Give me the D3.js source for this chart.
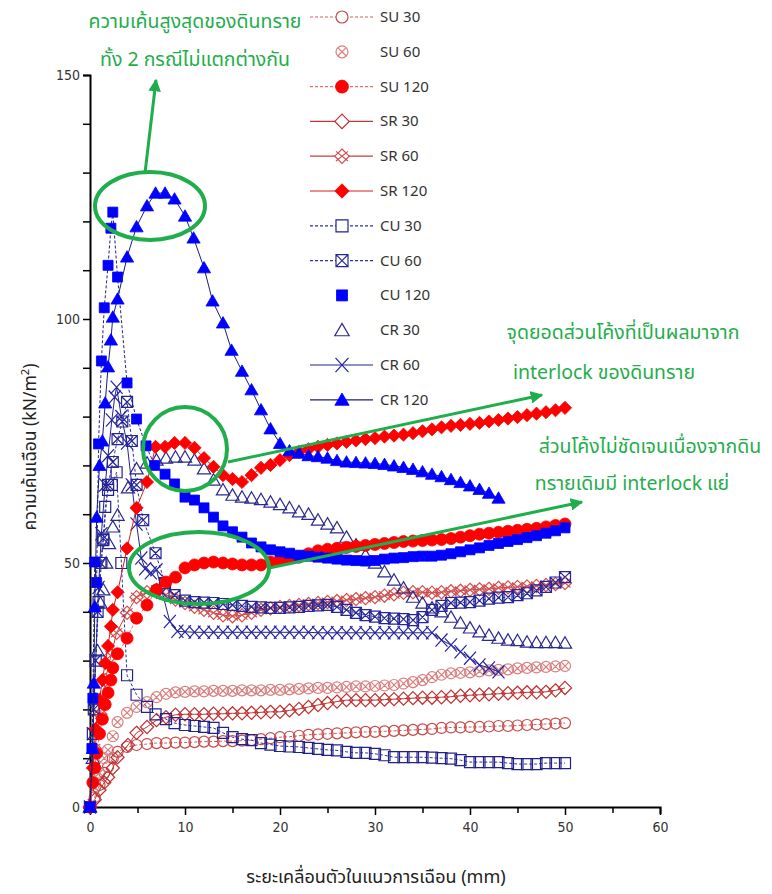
<!DOCTYPE html>
<html>
<head>
<meta charset="utf-8">
<script src="https://cdn.jsdelivr.net/npm/d3@7"></script>
<style>
  body { margin: 0; background: #fff; }
  svg text { font-family: "Noto Sans Thai", "Noto Sans", "DejaVu Sans", sans-serif; }
</style>
</head>
<body>
<div id="chart"></div>
<script>
// data: [displacement mm, shear stress kN/m2]
const su30 = [[0,0],[0.5,2],[1,4.5],[1.5,7],[1.9,8.2],[2.4,10],[2.9,11.3],[3.9,12.3],[4.9,12.7],[6,12.9],[7,13.1],[8,13.1],[9,13.2],[10,13.2],[11,13.3],[12,13.4],[13,13.4],[14,13.5],[15,13.5],[16,13.6],[17,13.7],[18,13.9],[19,14.1],[20,14.3],[21,14.4],[22,14.6],[23,14.8],[24,14.9],[25,15],[26,15.1],[27,15.2],[28,15.3],[29,15.4],[30,15.4],[31,15.5],[32,15.6],[33,15.7],[34,15.8],[35,15.9],[36,16],[37,16.2],[38,16.3],[39,16.3],[40,16.4],[41,16.4],[42,16.5],[43,16.6],[44,16.6],[45,16.7],[46,16.8],[47,16.9],[48,17],[49,17.1],[50,17.2]];
const su60 = [[0,0],[0.5,4],[1,7],[1.5,10],[1.9,11.7],[2.4,14.5],[2.9,17.4],[3.9,19.3],[4.9,20.5],[6,21.5],[7,22.5],[8,23.2],[9,23.5],[10,23.6],[11,23.7],[12,23.7],[13,23.8],[14,23.8],[15,23.8],[16,23.9],[17,23.9],[18,23.9],[19,24],[20,24],[21,24.1],[22,24.2],[23,24.3],[24,24.4],[25,24.4],[26,24.5],[27,24.6],[28,24.7],[29,24.7],[30,24.8],[31,24.9],[32,25],[33,25.3],[34,25.6],[35,26],[36,26.6],[37,27.1],[38,27.4],[39,27.5],[40,27.6],[41,27.8],[42,28],[43,28.1],[44,28.2],[45,28.4],[46,28.5],[47,28.6],[48,28.7],[49,28.8],[50,28.9]];
const su120 = [[0,0],[0.3,5],[0.5,8],[0.7,11],[1,15],[1.3,18],[1.6,21],[1.9,23.4],[2.2,26],[2.4,28.5],[2.9,31.4],[3.9,34.6],[4.9,38.7],[6,41.4],[7,44.5],[8,46.1],[9,47.1],[10,49],[11,49.6],[12,50],[13,50.2],[14,50],[15,49.8],[16,49.6],[17,49.6],[18,49.6],[19,50.2],[20,50.6],[21,51],[22,51.2],[23,51.9],[24,52.5],[25,52.8],[26,53],[27,53.2],[28,53.4],[29,53.6],[30,53.8],[31,54],[32,54.2],[33,54.4],[34,54.5],[35,54.6],[36,54.7],[37,54.8],[38,55],[39,55.3],[40,55.6],[41,55.9],[42,56.1],[43,56.3],[44,56.5],[45,56.7],[46,56.9],[47,57.1],[48,57.4],[49,57.7],[50,58]];
const sr30 = [[0,0],[0.5,1.5],[1,3.5],[1.5,5],[1.9,6.1],[2.4,8],[2.9,10.2],[4,12.7],[4.9,15.2],[6,16.4],[7,17.8],[8,18.4],[9,18.9],[10,19],[11,19],[12,19],[13,19.1],[14,19.1],[15,19.2],[16,19.2],[17,19.3],[18,19.4],[19,19.5],[20,19.5],[21,19.8],[22,20.1],[23,20.5],[24,20.9],[25,21.3],[26,21.6],[27,21.9],[28,21.9],[29,21.9],[30,21.9],[31,22],[32,22.1],[33,22.2],[34,22.3],[35,22.4],[36,22.4],[37,22.5],[38,22.6],[39,22.8],[40,22.9],[41,23],[42,23.1],[43,23.2],[44,23.3],[45,23.4],[46,23.5],[47,23.5],[48,23.6],[49,23.9],[50,24.4]];
const sr60 = [[0,0],[0.5,12],[1.1,19],[1.6,26],[2.2,31],[2.8,35.7],[3.9,39.8],[4.9,43],[6,44],[7,44.5],[8,43.5],[9,42.5],[10,41.8],[11,41],[12,40.4],[13,39.8],[14,39.3],[15,39.1],[16,39.3],[17,39.8],[18,40.4],[19,40.7],[20,41],[21,41.2],[22,41.4],[23,41.6],[24,41.8],[25,42],[26,42.2],[27,42.4],[28,42.6],[29,42.8],[30,43],[31,43.3],[32,43.6],[33,43.9],[34,44],[35,44],[36,43.9],[37,44],[38,44.2],[39,44.3],[40,44.5],[41,44.6],[42,44.7],[43,44.9],[44,45],[45,45.1],[46,45.2],[47,45.3],[48,45.5],[49,45.7],[50,45.9]];
const sr120 = [[0,0],[0.3,8],[0.6,16],[1,22],[1.3,26],[1.6,29.5],[1.9,33],[2.2,37],[2.4,40.4],[2.9,44],[3.9,53],[4.9,61.3],[6,66.6],[6.9,73.8],[7.9,73.8],[8.9,74.6],[10,74.6],[11,73.6],[12,71.5],[13,69.7],[14,68],[15,67.2],[16,66.6],[17,68],[18,69.5],[19,70.1],[20,71.1],[21,72.1],[22,72.8],[23,73.3],[24,73.8],[25,74.2],[26,74.5],[27,74.8],[28,75.1],[29,75.4],[30,75.6],[31,75.9],[32,76.1],[33,76.3],[34,76.6],[35,77],[36,77.4],[37,77.8],[38,78.1],[39,78.3],[40,78.5],[41,78.7],[42,79],[43,79.3],[44,79.6],[45,79.9],[46,80.3],[47,80.6],[48,80.9],[49,81.3],[50,81.8]];
const cu30 = [[0,0],[0.3,15],[0.6,30],[0.9,42],[1.2,50],[1.4,54.7],[1.6,61.5],[1.9,65],[2.3,66],[2.8,68.6],[3.3,50],[3.9,27],[4.9,23],[6,20.5],[6.9,19],[8,18],[8.9,17.2],[10,16.8],[11,16.6],[12,16.4],[13,16.2],[14,15.2],[15,14.3],[16,13.9],[17,13.7],[18,13.1],[19,12.8],[20,12.5],[21,12.4],[22,12.3],[23,12.1],[24,11.9],[25,11.7],[26,11.6],[27,11.3],[28,11.1],[29,11.1],[30,10.9],[31,10.6],[32,10.2],[33,10.2],[34,10.2],[35,10.2],[36,10.1],[37,10],[38,9.9],[39,9.6],[40,9.2],[41,9.2],[42,9.2],[43,9.2],[44,9],[45,8.8],[46,8.8],[47,8.8],[48,9],[49,9],[50,9]];
const cu60 = [[0,0],[0.4,20],[0.8,40],[1.1,50],[1.4,55],[1.9,66],[2.4,70.7],[2.9,75.4],[3.4,79],[3.9,83],[4.4,75],[4.9,66],[5.6,58.8],[6.9,52],[7.9,45.9],[8.9,43.4],[10,42.3],[11,42],[12,41.9],[13,41.8],[14,41.6],[15,41.4],[16,41.2],[17,41],[18,40.9],[19,40.8],[20,40.8],[21,40.9],[22,41],[23,41.2],[24,41.3],[25,41.4],[26,41],[27,40.4],[28,39.8],[29,39.3],[30,39],[31,38.7],[32,38.6],[33,38.5],[34,38.3],[35,38.9],[36,40.4],[37,41.2],[38,41.8],[39,41.9],[40,42],[41,42.3],[42,42.7],[43,42.9],[44,43],[45,43.4],[46,43.8],[47,44.4],[48,45.1],[49,46],[50,47.1]];
const cu120 = [[0,0],[0.2,12],[0.3,22.3],[0.5,50.2],[0.7,46],[0.9,74.4],[1.2,91.4],[1.5,102.3],[1.9,111],[2.2,118.6],[2.4,121.9],[2.9,108.6],[3.9,86.9],[4.9,79.5],[5.9,74],[6.8,70],[7.9,68.2],[8.9,66.2],[10,63.5],[11,62.9],[12,61.3],[13,59.4],[14,57.6],[15,56.4],[16,55.3],[17,54.1],[18,53.3],[19,52.7],[20,52.3],[21,52],[22,51.6],[23,51.4],[24,51.2],[25,51],[26,50.8],[27,50.6],[28,50.5],[29,50.4],[30,50.5],[31,50.8],[32,51],[33,51.1],[34,51.3],[35,51.4],[36,51.4],[37,51.6],[38,51.9],[39,52.3],[40,52.7],[41,53.1],[42,53.6],[43,54],[44,54.4],[45,54.8],[46,55.2],[47,55.6],[48,56.1],[49,56.6],[50,57.2]];
const cr30 = [[0,0],[0.3,10],[0.6,22],[0.8,32],[1.1,41.8],[1.4,44.5],[1.7,50],[2,54],[2.4,57.4],[2.9,59.8],[4,65.4],[4.9,69.3],[6,70.5],[7,71.1],[8,71.5],[9,71.7],[10,71.7],[11,71.1],[12,69.3],[13,67],[14,65],[15,63.9],[16,63.5],[17,63.3],[18,63],[19,62.5],[20,62],[21,61.3],[22,60.5],[23,60],[24,58.8],[25,58],[26,57.2],[27,55.3],[28,53.7],[29,51.6],[30,50],[31,48.2],[32,46.5],[33,44.9],[34,43],[35,41.8],[36,40.8],[37,40],[38,38.9],[39,37.7],[40,36.7],[41,35.9],[42,35.2],[43,34.6],[44,34.2],[45,34.1],[46,33.8],[47,33.7],[48,33.7],[49,33.7],[50,33.6]];
const cr60 = [[0,0],[0.3,15],[0.6,30],[0.9,45],[1.2,56],[1.6,66],[1.9,72],[2.3,79.3],[2.6,84],[2.8,86],[3.3,80],[3.9,74.6],[4.4,66],[4.9,58],[5.4,51],[5.8,48.8],[6.4,48],[7,48.6],[7.6,44],[8.4,38],[9.2,36],[10,35.9],[11,35.8],[12,35.8],[13,35.8],[14,35.8],[15,35.8],[16,35.8],[17,35.8],[18,35.8],[19,35.8],[20,35.8],[21,35.8],[22,35.8],[23,35.8],[24,35.7],[25,35.7],[26,35.7],[27,35.7],[28,35.7],[29,35.7],[30,35.7],[31,35.7],[32,35.7],[33,35.7],[34,35.7],[35,35.7],[36,35.7],[37,34.2],[38,33.2],[39,31.8],[40,30.5],[41,29.1],[42,28.5],[43,27.7]];
const cr120 = [[0,0],[0.3,12],[0.4,25.4],[0.5,41],[0.7,59.4],[1,70],[1.3,75],[1.6,82.8],[1.9,90.2],[2.2,95.7],[2.4,100.4],[2.9,104.1],[3.9,112.7],[4.9,118.9],[6,123.2],[6.9,125.8],[7.9,125.8],[8.9,124.6],[10,121.1],[10.9,116.6],[12,110.5],[12.9,103.7],[14,99.2],[14.9,93.6],[16,89.3],[17,85.5],[18,81.4],[19,77.5],[20,74.5],[21,73],[22,72.5],[23,72],[24,71.8],[25,71.5],[26,71],[27,70.7],[28,70.6],[29,70.5],[30,70.4],[31,70.2],[32,69.9],[33,69.6],[34,69.2],[35,68.7],[36,68.2],[37,67.7],[38,67.1],[39,66.5],[40,65.8],[41,65.1],[42,64.3],[43,63.3]];

const xTicks = [0, 10, 20, 30, 40, 50, 60];
const yTicks = [0, 50, 100, 150];

// marker shapes, centred on 0,0
function markerPath(type, s) {
    const h = s / 2;
    const circle = r => `M${-r},0A${r},${r} 0 1,0 ${r},0A${r},${r} 0 1,0 ${-r},0Z`;
    const sq = `M${-h},${-h}H${h}V${h}H${-h}Z`;
    const ex = `M${-h},${-h}L${h},${h}M${h},${-h}L${-h},${h}`;
    const dia = `M0,${-h * 1.2}L${h * 1.2},0L0,${h * 1.2}L${-h * 1.2},0Z`;
    if (type === "circle") return circle(h);
    if (type === "circleX") { const k = h * 0.7; return circle(h) + `M${-k},${-k}L${k},${k}M${k},${-k}L${-k},${k}`; }
    if (type === "square") return sq;
    if (type === "squareX") return sq + ex;
    if (type === "diamond") return dia;
    if (type === "diamondX") return dia + `M${-h},${-h * 0.8}L${h},${h * 0.8}M${h},${-h * 0.8}L${-h},${h * 0.8}`;
    if (type === "cross") return `M${-h},${-h * 1.1}L${h},${h * 1.1}M${h},${-h * 1.1}L${-h},${h * 1.1}`;
    if (type === "triangle") return `M0,${-h * 1.05}L${h * 1.1},${h * 0.85}L${-h * 1.1},${h * 0.85}Z`;
}

const series = [
    {name: "SU 30", data: su30, shape: "circle", size: 11, stroke: "#c84a4a", fill: "none", line: "#d06060", dash: "3,2"},
    {name: "SU 60", data: su60, shape: "circleX", size: 11, stroke: "#d88080", fill: "none", line: null},
    {name: "SR 30", data: sr30, shape: "diamond", size: 11, stroke: "#c03030", fill: "none", line: "#c03838", dash: null},
    {name: "SR 60", data: sr60, shape: "diamondX", size: 11, stroke: "#d05050", fill: "none", line: "#c84040", dash: null},
    {name: "CU 30", data: cu30, shape: "square", size: 11, stroke: "#22228a", fill: "none", line: "#30309a", dash: "3,2"},
    {name: "CU 60", data: cu60, shape: "squareX", size: 11, stroke: "#262696", fill: "none", line: "#30309a", dash: "3,2"},
    {name: "CR 30", data: cr30, shape: "triangle", size: 12, stroke: "#2a2a8c", fill: "none", line: null},
    {name: "CR 60", data: cr60, shape: "cross", size: 12, stroke: "#2323a0", fill: "none", line: "#23238c", dash: null},
    {name: "SU 120", data: su120, shape: "circle", size: 12, stroke: "#ff0000", fill: "#ff0000", line: "#e07070", dash: "3,2"},
    {name: "SR 120", data: sr120, shape: "diamond", size: 11, stroke: "#ff0000", fill: "#ff0000", line: "#cc2020", dash: null},
    {name: "CU 120", data: cu120, shape: "square", size: 10, stroke: "#0000ff", fill: "#0000ff", line: "#20208a", dash: "3,2"},
    {name: "CR 120", data: cr120, shape: "triangle", size: 12, stroke: "#0000ff", fill: "#0000ff", line: "#1a1a80", dash: null}
];
const legendOrder = ["SU 30", "SU 60", "SU 120", "SR 30", "SR 60", "SR 120", "CU 30", "CU 60", "CU 120", "CR 30", "CR 60", "CR 120"];
const legendNoLine = ["SU 60", "CU 120", "CR 30"];

const W = 772, H = 894;
const svg = d3.select("#chart").append("svg").attr("width", W).attr("height", H);

const x = d3.scaleLinear().domain([0, 60]).range([90, 660]);
const y = d3.scaleLinear().domain([0, 150]).range([807, 75]);

// axes
svg.append("g")
    .attr("transform", "translate(0,807)")
    .call(d3.axisBottom(x).tickValues(d3.range(0, 61, 5)).tickSize(7).tickFormat(d => xTicks.includes(d) ? d : ""))
    .call(g => g.select(".domain").attr("stroke-width", 2))
    .call(g => g.selectAll(".tick line").attr("stroke-width", 1.5).attr("y2", d => d % 10 === 0 ? 8 : 6))
    .call(g => g.selectAll("text").attr("font-size", 14).attr("fill", "#333").attr("dy", "1.1em")
        .style("font-family", "'DejaVu Sans Condensed', 'Liberation Sans Narrow', sans-serif"));

svg.append("g")
    .attr("transform", "translate(90,0)")
    .call(d3.axisLeft(y).tickValues(d3.range(0, 151, 10)).tickSize(7).tickFormat(d => yTicks.includes(d) ? d : ""))
    .call(g => g.select(".domain").attr("stroke-width", 2))
    .call(g => g.selectAll(".tick line").attr("stroke-width", 1.5))
    .call(g => g.selectAll("text").attr("font-size", 14).attr("fill", "#333").attr("x", -10)
        .style("font-family", "'DejaVu Sans Condensed', 'Liberation Sans Narrow', sans-serif"));

// axis titles
svg.append("text")
    .attr("x", 376).attr("y", 883)
    .attr("text-anchor", "middle").attr("font-size", 18).attr("fill", "#222")
    .text("ระยะเคลื่อนตัวในแนวการเฉือน (mm)");

const yl = svg.append("text")
    .attr("transform", "translate(36,447) rotate(-90)")
    .attr("text-anchor", "middle").attr("font-size", 17.5).attr("fill", "#222");
yl.append("tspan").text("ความเค้นเฉือน (kN/m");
yl.append("tspan").attr("font-size", 11).attr("dy", -7).text("2");
yl.append("tspan").attr("dy", 7).text(")");

// series
const line = d3.line().x(d => x(d[0])).y(d => y(d[1]));
const plot = svg.append("g");

series.forEach(s => {
    if (s.line) {
        plot.append("path")
            .datum(s.data)
            .attr("fill", "none")
            .attr("stroke", s.line)
            .attr("stroke-width", 1)
            .attr("stroke-dasharray", s.dash)
            .attr("d", line);
    }
    plot.append("g").selectAll("path")
        .data(s.data)
        .join("path")
        .attr("transform", d => `translate(${x(d[0])},${y(d[1])})`)
        .attr("d", markerPath(s.shape, s.size))
        .attr("fill", s.fill)
        .attr("stroke", s.stroke)
        .attr("stroke-width", s.fill === "none" ? 1.2 : 0.8);
});

// legend
const legend = svg.append("g");
legendOrder.forEach((name, i) => {
    const s = series.find(e => e.name === name);
    const ly = 17 + i * 34.8;
    if (!legendNoLine.includes(name)) {
        legend.append("line")
            .attr("x1", 310).attr("x2", 373).attr("y1", ly).attr("y2", ly)
            .attr("stroke", s.line).attr("stroke-width", 1.2)
            .attr("stroke-dasharray", s.dash);
    }
    legend.append("path")
        .attr("transform", `translate(342,${ly})`)
        .attr("d", markerPath(s.shape, s.size + 1))
        .attr("fill", s.fill === "none" ? "#fff" : s.fill)
        .attr("stroke", s.stroke)
        .attr("stroke-width", s.fill === "none" ? 1.2 : 0.8);
    legend.append("text")
        .attr("x", 380).attr("y", ly + 5)
        .attr("font-size", 15).attr("fill", "#333")
        .text(name);
});

// annotations
const green = "#1fae4b";
const ann = svg.append("g");
svg.append("defs").append("marker")
    .attr("id", "arrow").attr("viewBox", "0 0 10 10")
    .attr("refX", 9).attr("refY", 5)
    .attr("markerWidth", 4.2).attr("markerHeight", 4.2)
    .attr("orient", "auto")
    .append("path").attr("d", "M0,0L10,5L0,10Z").attr("fill", green);

[[150, 206, 55, 34], [185, 449, 42, 42], [199, 568, 70, 36]].forEach(e => {
    ann.append("ellipse")
        .attr("cx", e[0]).attr("cy", e[1]).attr("rx", e[2]).attr("ry", e[3])
        .attr("fill", "none").attr("stroke", green).attr("stroke-width", 4);
});
[[145, 173, 156, 80], [228, 462, 542, 395], [269, 568, 582, 502]].forEach(a => {
    ann.append("line")
        .attr("x1", a[0]).attr("y1", a[1]).attr("x2", a[2]).attr("y2", a[3])
        .attr("stroke", green).attr("stroke-width", 3)
        .attr("marker-end", "url(#arrow)");
});

const notes = [
    ["ความเค้นสูงสุดของดินทราย", 195, 28],
    ["ทั้ง 2 กรณีไม่แตกต่างกัน", 195, 66],
    ["จุดยอดส่วนโค้งที่เป็นผลมาจาก", 623, 339],
    ["interlock ของดินทราย", 604, 379],
    ["ส่วนโค้งไม่ชัดเจนเนื่องจากดิน", 650, 453],
    ["ทรายเดิมมี interlock แย่", 632, 490]
];
notes.forEach(n => {
    ann.append("text")
        .attr("x", n[1]).attr("y", n[2])
        .attr("text-anchor", "middle").attr("font-size", 19.5).attr("fill", green)
        .text(n[0]);
});
</script>
</body>
</html>
